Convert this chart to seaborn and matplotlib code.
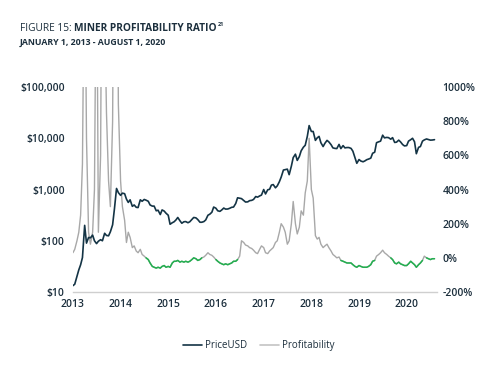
import numpy as np
import pandas as pd
import seaborn as sns
import matplotlib.pyplot as plt
from matplotlib.lines import Line2D
from matplotlib.ticker import FixedLocator, FuncFormatter

# semi-monthly samples (1st and 15th), Jan 2013 .. Aug 1 2020
price_usd = [
    13.3, 14.2, 20.4, 27, 34, 47, 200, 90, 116, 114, 129, 100, 88, 98, 105, 100, 140, 127, 125, 150, 205, 420, 1050, 870,
    770, 850, 830, 650, 560, 630, 470, 500, 450, 445, 630, 590, 640, 620, 590, 500, 475, 475, 385, 395, 325, 400, 380, 345,
    315, 210, 225, 235, 255, 285, 245, 220, 235, 237, 225, 235, 260, 285, 280, 260, 230, 230, 237, 255, 315, 330, 360, 455,
    432, 385, 375, 400, 435, 415, 417, 430, 450, 455, 535, 690, 675, 665, 610, 570, 575, 607, 615, 640, 730, 710, 750, 780,
    1000, 820, 990, 1010, 1220, 1250, 1080, 1180, 1420, 1750, 2400, 2450, 2500, 1950, 2870, 4200, 4900, 3700, 4400, 5700, 6700, 7300, 10900, 17700,
    13600, 13600, 9100, 10200, 10900, 8200, 6900, 8000, 9100, 8500, 7500, 6500, 6350, 6300, 7600, 6300, 7200, 6500, 6600, 6600, 6350, 5600, 4200, 3250,
    3850, 3600, 3480, 3620, 3820, 3930, 4100, 5100, 5350, 8200, 8550, 8800, 11500, 10200, 10400, 10300, 9600, 10300, 8300, 8400, 9200, 8500, 7550, 7100,
    7200, 8800, 9400, 10000, 8550, 5000, 6650, 6900, 8800, 9300, 9700, 9450, 9200, 9250, 9400,
]
profitability = [
    30, 50, 100, 150, 250, 550, 2000, 700, 150, 80, 150, 400, 2000, 150, 600, 2500, 1500, 850, 450, 300, 800, 2500, 3000, 900,
    450, 300, 220, 90, 150, 120, 60, 70, 40, 30, 50, 20, 10, 0, -10, -30, -50, -55, -60, -55, -60, -50, -45, -55,
    -50, -55, -30, -20, -20, -15, -25, -20, -25, -20, -25, -20, -10, 0, -5, -15, -10, 0, 5, 15, 30, 20, 15, 5,
    -10, -20, -30, -35, -40, -35, -40, -35, -30, -20, -20, -10, 10, 100, 90, 75, 70, 60, 55, 45, 30, 25, 50, 70,
    60, 30, 25, 40, 50, 60, 90, 100, 150, 200, 180, 150, 80, 100, 200, 330, 200, 140, 180, 275, 250, 380, 450, 700,
    400, 350, 130, 110, 120, 80, 60, 70, 80, 60, 40, 20, 10, 0, 5, -15, -20, -25, -30, -30, -30, -40, -50, -55,
    -45, -50, -55, -55, -55, -50, -40, -20, -15, 10, 20, 30, 45, 30, 20, 10, 0, -10, -30, -35, -25, -35, -40, -45,
    -45, -35, -20, -30, -40, -55, -40, -30, -15, 10, 0, -5, -10, -5, -5,
]
years = list(range(2013, 2021))
price_ticks = [10, 100, 1000, 10000, 100000]
profit_ticks = [-200, 0, 200, 400, 600, 800, 1000]

dates = [pd.Timestamp(y, m, d) for y in range(2013, 2021) for m in range(1, 13) for d in (1, 15)]
dates = dates[:len(price_usd)]
df = pd.DataFrame({"date": dates, "PriceUSD": price_usd, "Profitability": profitability})

# green runs where profitability is at or below 0%
neg = df["Profitability"] <= 0
df["seg"] = (neg != neg.shift()).cumsum()
df_neg = df[neg]

navy = "#143445"
gray = "#a8a8a8"
green = "#22b04f"
txt = "#1c2f3d"

sns.set_style("white")
plt.rcParams["font.family"] = ["Open Sans", "DejaVu Sans"]

fig = plt.figure(figsize=(4.96, 3.72), dpi=100)
ax = fig.add_axes([0.147, 0.215, 0.734, 0.551])
ax2 = ax.twinx()

sns.lineplot(data=df, x="date", y="Profitability", ax=ax2, color=gray, linewidth=1.0)
sns.lineplot(data=df_neg, x="date", y="Profitability", units="seg", estimator=None,
             ax=ax2, color=green, linewidth=1.1)
sns.lineplot(data=df, x="date", y="PriceUSD", ax=ax, color=navy, linewidth=1.2)

ax.set_zorder(ax2.get_zorder() + 1)
ax.patch.set_visible(False)

ax.set_yscale("log")
ax.set_ylim(10, 100000)
ax.yaxis.set_major_locator(FixedLocator(price_ticks))
ax.yaxis.set_minor_locator(FixedLocator([]))
ax.yaxis.set_major_formatter(FuncFormatter(lambda v, p: f"${v:,.0f}"))
ax2.set_ylim(-200, 1000)
ax2.yaxis.set_major_locator(FixedLocator(profit_ticks))
ax2.yaxis.set_major_formatter(FuncFormatter(lambda v, p: f"{v:.0f}%"))

ax.set_xlim(pd.Timestamp(2013, 1, 1), pd.Timestamp(2020, 8, 20))
ax.set_xticks([pd.Timestamp(y, 1, 1) for y in years])
ax.set_xticklabels([str(y) for y in years])

for a in (ax, ax2):
    a.set_xlabel("")
    a.set_ylabel("")
    for s in a.spines.values():
        s.set_visible(False)
    a.tick_params(length=0, labelsize=7.5, labelcolor=txt)
    a.grid(False)
    if a.get_legend():
        a.get_legend().remove()
ax.spines["bottom"].set_visible(True)
ax.spines["bottom"].set_color("#cfcfcf")
ax.spines["bottom"].set_linewidth(1.0)
ax.tick_params(axis="y", pad=6)
ax.tick_params(axis="x", pad=5)
ax2.tick_params(axis="y", pad=4)
for lab in ax.get_yticklabels() + ax.get_xticklabels() + ax2.get_yticklabels():
    lab.set_fontweight("semibold")

# title pieces
renderer = fig.canvas.get_renderer()
t1 = fig.text(0.040, 0.917, "FIGURE 15: ", fontsize=7.3, color=txt, va="baseline")
bb = t1.get_window_extent(renderer)
t2 = fig.text(bb.x1 / fig.bbox.width, 0.917, "MINER PROFITABILITY RATIO", fontsize=7.3,
              fontweight="bold", color=txt, va="baseline")
bb2 = t2.get_window_extent(renderer)
fig.text(bb2.x1 / fig.bbox.width + 0.002, 0.930, "21", fontsize=4, fontweight="bold",
         color=txt, va="baseline")
fig.text(0.040, 0.880, "JANUARY 1, 2013 - AUGUST 1, 2020", fontsize=6.3, fontweight="bold",
         color=txt, va="baseline")

handles = [Line2D([0], [0], color=navy, lw=1.2), Line2D([0], [0], color="#c4c4c4", lw=1.2)]
fig.legend(handles, ["PriceUSD", "Profitability"], loc="center", bbox_to_anchor=(0.522, 0.07),
           ncol=2, frameon=False, fontsize=7, handlelength=2.0, handletextpad=0.3,
           columnspacing=1.3, labelcolor=txt)

fig.savefig("out.png", dpi=100)
